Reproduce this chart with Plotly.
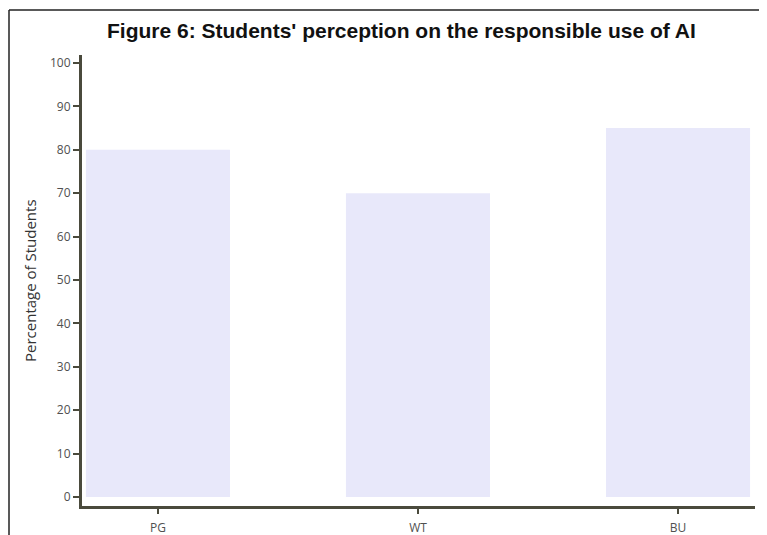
import plotly.graph_objects as go

categories = ["PG", "WT", "BU"]
values = [80, 70, 85]
y_ticks = [0, 10, 20, 30, 40, 50, 60, 70, 80, 90, 100]

OFF = 8  # page body margin
W, H = 767 - OFF, 535 - OFF
L, R, T, B = 82 - OFF, 12, 55 - OFF, 29
pw, ph = W - L - R, H - T - B

def px(x):
    return (x - OFF - L) / pw

def py(y):
    return (H - B - (y - OFF)) / ph

axis_col = "#4a4a3c"
tick_font = dict(family="Open Sans", size=12, color="#505050")

fig = go.Figure(go.Bar(
    x=categories, y=values, width=0.554,
    marker=dict(color="#e8e8fa", line=dict(width=0)),
))

fig.update_layout(
    template="none",
    width=W, height=H,
    margin=dict(l=L, r=R, t=T, b=B, pad=0),
    paper_bgcolor="white", plot_bgcolor="white",
    showlegend=False,
    xaxis=dict(
        range=[-0.292, 2.296], showgrid=False, zeroline=False, automargin=False,
        showline=True, linecolor=axis_col, linewidth=3,
        ticks="outside", ticklen=5, tickwidth=2, tickcolor=axis_col,
        ticklabelstandoff=4,
        tickfont=tick_font,
    ),
    yaxis=dict(
        range=[-2.08, 101.85], showgrid=False, zeroline=False, automargin=False,
        showline=True, linecolor=axis_col, linewidth=3,
        tickvals=y_ticks,
        ticks="outside", ticklen=6, tickwidth=2, tickcolor=axis_col,
        tickfont=tick_font,
    ),
    annotations=[
        dict(text="<b>Figure 6: Students' perception on the responsible use of AI</b>",
             x=px(401), y=py(30), xref="paper", yref="paper", showarrow=False,
             font=dict(family="Liberation Sans", size=21, color="#111111"),
             xanchor="center", yanchor="middle"),
        dict(text="Percentage of Students", textangle=-90,
             x=px(30), y=py(281), xref="paper", yref="paper", showarrow=False,
             font=dict(family="Open Sans", size=15, color="#333333"),
             xanchor="center", yanchor="middle"),
    ],
    shapes=[
        dict(type="line", xref="paper", yref="paper",
             x0=px(9), x1=px(9), y0=py(10), y1=py(540),
             line=dict(color="#222222", width=1.5)),
        dict(type="line", xref="paper", yref="paper",
             x0=px(9), x1=px(770), y0=py(10), y1=py(10),
             line=dict(color="#222222", width=1.5)),
    ],
)

fig.write_html("out.html")
